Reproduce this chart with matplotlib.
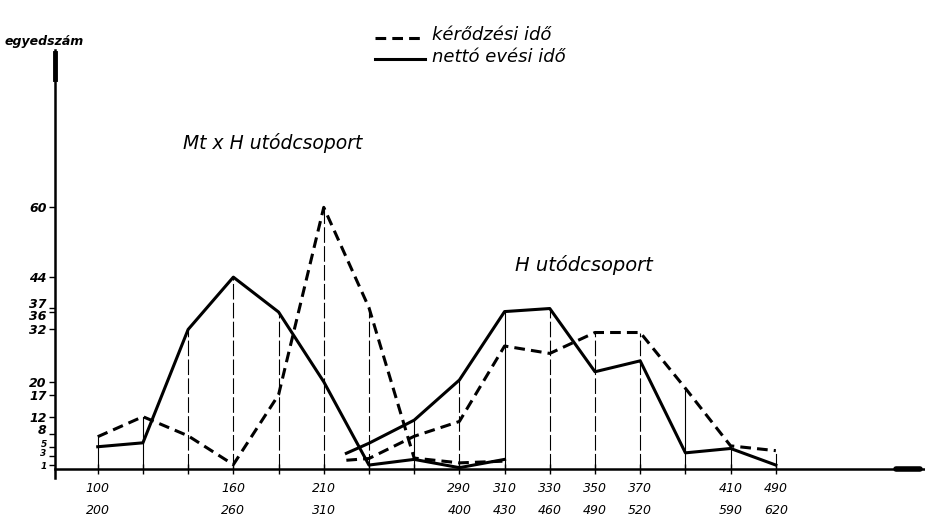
import matplotlib.pyplot as plt
from matplotlib.lines import Line2D
from matplotlib.transforms import ScaledTranslation

# Mt x H utódcsoport (felső sor), H utódcsoport (alsó sor) -- közös osztályközök
x_mt = [0, 1, 2, 3, 4, 5, 6, 7, 8, 9]
mt_kerodzes = [7.4, 12, 7.6, 1, 17, 60, 37, 2.5, 1.4, 1.8]
mt_netto = [5.1, 6, 32, 44, 36, 20, 0.9, 2.2, 0.3, 2.2]

x_h = [5.5, 6, 7, 8, 9, 10, 11, 12, 13, 14, 15]
h_kerodzes = [2, 2.4, 7.5, 10.9, 28.2, 26.5, 31.3, 31.3, 18.5, 5.3, 4.2]
h_netto = [3.6, 5.9, 11.2, 20.4, 36.1, 36.8, 22.3, 24.8, 3.7, 4.7, 0.9]

tick_pos = list(range(16))
tick_labels = ["100\n200", "", "", "160\n260", "", "210\n310", "", "",
               "290\n400", "310\n430", "330\n460", "350\n490", "370\n520", "",
               "410\n590", "490\n620"]
y_ticks = [1, 3, 5, 8, 12, 17, 20, 32, 36, 37, 44, 60]

# függőleges vonalak stílusa (szaggatott vagy folytonos)
vline_dashed = [False, False, True, True, True, True, True, False,
                True, False, True, True, True, False, False, True]

fig = plt.figure(figsize=(9.25, 5.19), dpi=100)
ax = fig.add_axes([55 / 925, (519 - 477.7) / 519, 870 / 925, (477.7 - 50.4) / 519])
ax.set_xlim(-0.945, 18.3)
ax.set_ylim(-2, 96)

# függőleges segédvonalak a legmagasabb pontig
for i in tick_pos:
    vals = []
    for xs, ys in [(x_mt, mt_kerodzes), (x_mt, mt_netto), (x_h, h_kerodzes), (x_h, h_netto)]:
        if i in xs:
            vals.append(ys[xs.index(i)])
    top = max(vals)
    ls = (0, (14, 3)) if vline_dashed[i] else "-"
    ax.plot([i, i], [0, top], color="black", lw=0.8, ls=ls)

dash = (0, (3.5, 2))
ax.plot(x_mt, mt_kerodzes, color="black", lw=2.2, ls=dash)
ax.plot(x_mt, mt_netto, color="black", lw=2.2)
ax.plot(x_h, h_kerodzes, color="black", lw=2.2, ls=dash)
ax.plot(x_h, h_netto, color="black", lw=2.2)

# tengelyek
for s in ["top", "right"]:
    ax.spines[s].set_visible(False)
ax.spines["bottom"].set_position(("data", 0))
ax.spines["bottom"].set_linewidth(1.8)
ax.spines["left"].set_linewidth(1.8)
ax.plot([-0.945, -0.945], [89.5, 95.5], color="black", lw=3.5, clip_on=False)
ax.plot([17.65, 18.2], [0, 0], color="black", lw=4, solid_capstyle="round", clip_on=False)

ax.set_yticks(y_ticks)
ax.set_yticklabels([str(v) for v in y_ticks], fontsize=9, fontweight="bold", fontstyle="italic")
ax.tick_params(axis="y", direction="out", length=4, width=1, pad=2)
# a sűrű címkék széthúzása (pontban), kisebb betű az alsóknak
shift = {1: -0.5, 3: 2.5, 5: 3, 8: 4, 36: -2.5, 37: 3.5}
for v, lbl in zip(y_ticks, ax.get_yticklabels()):
    if v in (1, 3, 5):
        lbl.set_fontsize(6.5)
    if v in shift:
        lbl.set_transform(lbl.get_transform() + ScaledTranslation(0, shift[v] / 72, fig.dpi_scale_trans))

ax.set_xticks(tick_pos)
ax.set_xticklabels(tick_labels, fontsize=9, fontstyle="italic")
ax.tick_params(axis="x", direction="inout", length=7, width=1, pad=6)
for lbl in ax.get_xticklabels():
    lbl.set_linespacing(1.9)

# feliratok
fig.text(5 / 925, 1 - 42 / 519, "egyedszám", fontsize=9, fontweight="bold",
         fontstyle="italic", va="center")
fig.text(183 / 925, 1 - 143 / 519, "Mt x H utódcsoport", fontsize=13.5,
         fontstyle="italic", va="center")
fig.text(515 / 925, 1 - 265 / 519, "H utódcsoport", fontsize=14,
         fontstyle="italic", va="center")

# jelmagyarázat
fig.add_artist(Line2D([375 / 925, 425 / 925], [1 - 38 / 519] * 2, color="black",
                      lw=2.2, ls=dash))
fig.add_artist(Line2D([375 / 925, 425 / 925], [1 - 59 / 519] * 2, color="black", lw=2.2))
fig.text(432 / 925, 1 - 35 / 519, "kérődzési idő", fontsize=13, fontstyle="italic", va="center")
fig.text(432 / 925, 1 - 57 / 519, "nettó evési idő", fontsize=13, fontstyle="italic", va="center")

fig.savefig("out.png", dpi=100)
